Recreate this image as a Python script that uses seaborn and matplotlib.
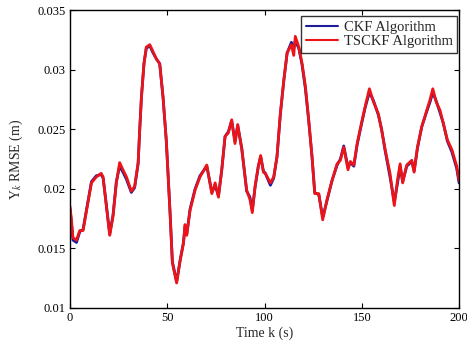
import matplotlib
matplotlib.use("Agg")
import matplotlib.pyplot as plt
import seaborn as sns
import pandas as pd

# ---- data ----
time_k = [0, 0.7, 1.5, 3.3, 5, 6.7, 8.4, 11, 13.5, 16, 17, 18.7, 20.4, 22.1, 23.8,
          25.5, 27.2, 29, 31.5, 33.2, 35, 35.8, 36.7, 38, 39.2, 41, 42.7, 44.4, 46.1,
          47.8, 49.5, 51.4, 52.6, 54.8, 56.6, 58.3, 59.1, 60, 61.7, 64.3, 66.8, 70.3,
          72.9, 74.6, 76.3, 78, 79.7, 81.4, 83.1, 84.8, 86.2, 88.3, 90.8, 92.5, 93.7,
          95.1, 96.8, 98, 99.4, 100.4, 103, 104.7, 106.4, 108.1, 109.9, 111.6, 113.8,
          115, 115.8, 117.6, 119.3, 121, 122.7, 124.4, 125.8, 127.9, 129.9, 132.1,
          134.7, 137.3, 139, 140.7, 142.9, 144.1, 145.9, 147.6, 149.8, 151.7, 153.9,
          156, 158.5, 160.2, 162, 164.5, 166.7, 168.3, 169.7, 171, 173.1, 175.7, 176.9,
          178.6, 180.8, 183.4, 185.1, 186.5, 188.2, 190.2, 191.9, 194, 196.3, 198.8, 200]

tsckf_rmse = [0.0185, 0.0174, 0.0159, 0.0157, 0.0165, 0.0165, 0.0181, 0.0205, 0.0210,
              0.0213, 0.0210, 0.0185, 0.0161, 0.0177, 0.0205, 0.0222, 0.0216, 0.0210,
              0.0198, 0.0202, 0.0222, 0.0249, 0.0277, 0.0305, 0.0319, 0.0321, 0.0315,
              0.0309, 0.0305, 0.0277, 0.0240, 0.0180, 0.0138, 0.0121, 0.0140, 0.0154,
              0.0170, 0.0161, 0.0182, 0.0199, 0.0210, 0.0220, 0.0196, 0.0205, 0.0193,
              0.0216, 0.0244, 0.0247, 0.0258, 0.0238, 0.0254, 0.0233, 0.0199, 0.0191,
              0.0180, 0.0202, 0.0219, 0.0228, 0.0214, 0.0213, 0.0205, 0.0210, 0.0227,
              0.0263, 0.0291, 0.0314, 0.0321, 0.0312, 0.0328, 0.0319, 0.0305, 0.0286,
              0.0258, 0.0227, 0.0196, 0.0196, 0.0174, 0.0191, 0.0207, 0.0221, 0.0224,
              0.0235, 0.0216, 0.0223, 0.0220, 0.0238, 0.0255, 0.0269, 0.0284, 0.0273,
              0.0263, 0.0249, 0.0233, 0.0213, 0.0186, 0.0207, 0.0221, 0.0205, 0.0220,
              0.0224, 0.0214, 0.0235, 0.0252, 0.0266, 0.0275, 0.0284, 0.0273, 0.0266,
              0.0255, 0.0241, 0.0233, 0.0219, 0.0207]

ckf_rmse = [0.0183, 0.0172, 0.0157, 0.0155, 0.0164, 0.0166, 0.0182, 0.0206, 0.0211,
            0.0212, 0.0209, 0.0186, 0.0162, 0.0178, 0.0206, 0.0219, 0.0214, 0.0208,
            0.0197, 0.0201, 0.0221, 0.0249, 0.0277, 0.0305, 0.0318, 0.0320, 0.0314,
            0.0309, 0.0305, 0.0277, 0.0240, 0.0181, 0.0139, 0.0122, 0.0140, 0.0155,
            0.0168, 0.0162, 0.0183, 0.0200, 0.0211, 0.0219, 0.0197, 0.0203, 0.0194,
            0.0216, 0.0244, 0.0248, 0.0257, 0.0240, 0.0253, 0.0234, 0.0198, 0.0193,
            0.0182, 0.0201, 0.0219, 0.0227, 0.0215, 0.0213, 0.0203, 0.0209, 0.0227,
            0.0262, 0.0291, 0.0314, 0.0323, 0.0318, 0.0324, 0.0318, 0.0304, 0.0284,
            0.0257, 0.0227, 0.0197, 0.0195, 0.0176, 0.0190, 0.0207, 0.0220, 0.0225,
            0.0236, 0.0218, 0.0222, 0.0219, 0.0237, 0.0254, 0.0268, 0.0281, 0.0274,
            0.0262, 0.0250, 0.0232, 0.0210, 0.0189, 0.0204, 0.0219, 0.0206, 0.0219,
            0.0223, 0.0215, 0.0234, 0.0252, 0.0265, 0.0273, 0.0281, 0.0274, 0.0264,
            0.0255, 0.0240, 0.0231, 0.0217, 0.0205]

x_ticks = [0, 50, 100, 150, 200]
y_ticks = [0.01, 0.015, 0.02, 0.025, 0.03, 0.035]
y_tick_labels = ["0.01", "0.015", "0.02", "0.025", "0.03", "0.035"]
series_names = ["CKF Algorithm", "TSCKF Algorithm"]

df = pd.DataFrame({
    "time": time_k * 2,
    "rmse": ckf_rmse + tsckf_rmse,
    "algo": [series_names[0]] * len(time_k) + [series_names[1]] * len(time_k),
})

sns.set_theme(style="ticks")
plt.rcParams["font.family"] = ["Liberation Serif", "DejaVu Serif"]
plt.rcParams["mathtext.fontset"] = "stix"

fig = plt.figure(figsize=(4.67, 3.49), dpi=100)
ax = fig.add_axes([0.150, 0.1175, 0.833, 0.8535])

palette = {series_names[0]: "#1c1c9c", series_names[1]: "#ec1418"}
sns.lineplot(data=df, x="time", y="rmse", hue="algo", palette=palette,
             hue_order=series_names, ax=ax, linewidth=2.0, legend=True,
             estimator=None, sort=False)

ax.set_xlim(0, 200)
ax.set_ylim(0.01, 0.035)
ax.set_xticks(x_ticks)
ax.set_xticklabels([str(v) for v in x_ticks])
ax.set_yticks(y_ticks)
ax.set_yticklabels(y_tick_labels)
ax.tick_params(direction="in", length=3.5, width=0.8, top=True, right=True,
               labelsize=9, colors="black", pad=3)
for s in ax.spines.values():
    s.set_visible(True)
    s.set_linewidth(1.0)
    s.set_color("black")

ax.set_xlabel("Time k (s)", fontsize=10, labelpad=2)
ax.set_ylabel(r"Y$_k$ RMSE (m)", fontsize=10, labelpad=9)

leg = ax.legend(loc="upper right", fontsize=10.5, frameon=True, fancybox=False,
                edgecolor="black", borderpad=0.3, handlelength=2.2,
                handletextpad=0.4, labelspacing=0.1,
                bbox_to_anchor=(0.995, 0.98), borderaxespad=0)
leg.get_frame().set_linewidth(1.0)
for line in leg.get_lines():
    line.set_linewidth(1.5)

fig.savefig("out.png", dpi=100)
